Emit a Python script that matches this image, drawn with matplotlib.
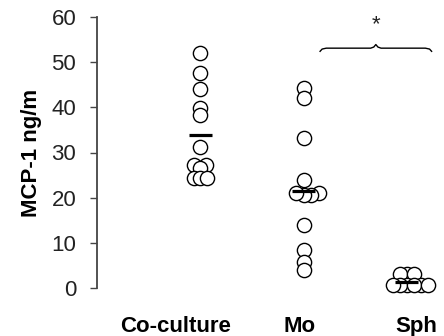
import numpy as np
import matplotlib
matplotlib.use('Agg')
import matplotlib.pyplot as plt

plt.rcParams['font.family'] = ['Liberation Sans', 'DejaVu Sans']

# MCP-1 (ng/ml) per sample
groups = ['Co-culture', 'Mo', 'Sph']
coculture = [52.0, 47.6, 44.0, 39.8, 38.3, 31.2, 27.2, 27.2, 26.5, 24.3, 24.3, 24.3]
mo = [44.3, 42.1, 33.2, 23.9, 21.0, 20.5, 20.5, 21.0, 13.9, 8.4, 5.8, 4.0]
sph = [3.0, 3.0, 3.0, 0.6, 0.6, 0.6, 0.6, 0.6, 0.6]
yticks = [0, 10, 20, 30, 40, 50, 60]
sig_label = '*'

W, H = 4.44, 3.36
fig = plt.figure(figsize=(W, H), dpi=100)
ax = fig.add_axes([97 / 444, 1 - 288 / 336, 347 / 444, 271 / 336])
ax.set_xlim(0, 3.36)
ax.set_ylim(0, 60)

# pixel scale, used for swarm spacing
px_x = 347 / 3.36
px_y = 271 / 60


def swarm(vals, dmin=9.0):
    """greedy beeswarm offsets (data units) so circles overlap only a bit"""
    order = np.argsort(vals)
    placed = []
    offs = np.zeros(len(vals))
    for i in order:
        y = vals[i] * px_y
        for step in np.arange(0, 60, 0.5):
            ok = None
            for cand in ([step, -step] if step else [0.0]):
                if all(np.hypot(cand - px, y - py) >= dmin for px, py in placed):
                    ok = cand
                    break
            if ok is not None:
                break
        placed.append((ok, y))
        offs[i] = ok / px_x
    return offs


for pos, vals, dmin in zip([1, 2, 3], [coculture, mo, sph], [6.5, 7.5, 7]):
    vals = np.array(vals)
    ax.scatter(pos + swarm(vals, dmin), vals, s=105, facecolor='white', edgecolor='black',
               linewidth=1.0, zorder=3, clip_on=False)
    ax.hlines(vals.mean(), pos - 0.11, pos + 0.11, color='black', lw=2.3, zorder=4)

# curly bracket between Mo and Sph
x0, x1, xm, yb = 2.16, 3.24, 2.70, 53.1
bx = [x0, x0 + 0.02, x0 + 0.06, xm - 0.05, xm - 0.02, xm, xm + 0.02, xm + 0.05,
      x1 - 0.06, x1 - 0.02, x1]
by = [yb - 0.7, yb - 0.2, yb, yb, yb + 0.25, yb + 0.8, yb + 0.25, yb, yb, yb - 0.2, yb - 0.7]
ax.plot(bx, by, color='black', lw=1.0, clip_on=False)
ax.text(xm, 58.4, sig_label, ha='center', va='center', fontsize=16, color='#222')

ax.spines[['top', 'right', 'bottom']].set_visible(False)
ax.spines['left'].set_color('#444')
ax.spines['left'].set_linewidth(1.3)
ax.set_yticks(yticks)
ax.tick_params(axis='y', direction='out', length=5, width=1.0, color='#444',
               pad=10, labelsize=16, labelcolor='#222')
ax.set_xticks([0.765, 1.965, 3.09])
ax.set_xticklabels(groups, fontsize=16, fontweight='bold')
ax.tick_params(axis='x', length=0, pad=20)
ax.set_ylabel('MCP-1 ng/m', fontsize=16, fontweight='bold', labelpad=7)

fig.savefig('out.png', dpi=100)
